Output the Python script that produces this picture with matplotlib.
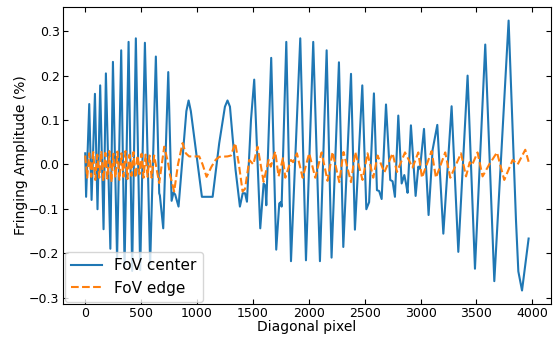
import matplotlib
matplotlib.use("Agg")
import matplotlib.pyplot as plt
import numpy as np

# FoV center: turning points
center_x = [0, 8, 36, 57, 87, 110, 134, 164, 185, 225, 248, 285, 322, 352, 388, 420,
            453, 492, 534, 581, 632, 662, 668, 698, 743, 773, 790, 805, 835, 905, 925,
            945, 1044, 1140, 1199, 1250, 1273, 1295, 1318, 1345, 1384, 1409, 1430, 1447,
            1483, 1512, 1566, 1596, 1612, 1620, 1664, 1709, 1736, 1750, 1757, 1799, 1841,
            1924, 1975, 2040, 2100, 2160, 2204, 2270, 2309, 2378, 2413, 2479, 2515, 2540,
            2583, 2610, 2630, 2652, 2691, 2729, 2750, 2771, 2801, 2831, 2855, 2870, 2884,
            2914, 2956, 2980, 2995, 3031, 3072, 3108, 3150, 3204, 3278, 3338, 3421, 3487,
            3579, 3660, 3788, 3854, 3875, 3908, 3967]
center_y = [0.025, -0.073, 0.136, -0.080, 0.159, -0.101, 0.178, -0.146, 0.205, -0.190,
            0.231, -0.212, 0.257, -0.230, 0.276, -0.240, 0.284, -0.238, 0.274, -0.225,
            0.243, -0.065, -0.070, -0.144, 0.208, -0.082, -0.063, -0.068, -0.095, 0.120,
            0.144, 0.120, -0.073, -0.073, 0.048, 0.130, 0.144, 0.130, 0.063, -0.012,
            -0.095, -0.065, -0.065, -0.084, 0.100, 0.191, -0.144, -0.043, -0.048, -0.092,
            0.240, -0.192, -0.088, -0.085, -0.095, 0.276, -0.218, 0.284, -0.216, 0.276,
            -0.218, 0.257, -0.210, 0.230, -0.186, 0.204, -0.147, 0.178, -0.101, -0.085,
            0.160, -0.058, -0.060, -0.078, 0.135, -0.035, -0.038, -0.073, 0.110, -0.043,
            -0.024, -0.043, -0.064, 0.088, -0.071, -0.005, -0.010, 0.080, -0.114, 0.033,
            0.089, -0.156, 0.131, -0.197, 0.200, -0.235, 0.270, -0.263, 0.324, -0.126,
            -0.241, -0.284, -0.167]

# FoV edge
edge_x = [0, 18, 36, 54, 72, 90, 108, 126, 144, 162, 180, 198, 216, 234, 252, 270, 288,
          306, 324, 342, 360, 378, 396, 414, 432, 450, 468, 486, 504, 522, 540, 558, 576,
          594, 617, 662, 707, 740, 760, 796, 830, 871, 900, 930, 1020, 1050, 1086, 1130,
          1169, 1200, 1273, 1304, 1342, 1375, 1408, 1430, 1468, 1504, 1542, 1596, 1641,
          1660, 1700, 1730, 1769, 1790, 1841, 1860, 1894, 1945, 2004, 2058, 2115, 2168,
          2213, 2273, 2311, 2378, 2416, 2481, 2526, 2577, 2616, 2676, 2750, 2789, 2861,
          2929, 2980, 3013, 3099, 3138, 3221, 3266, 3362, 3407, 3440, 3460, 3510, 3555,
          3615, 3684, 3749, 3824, 3869, 3937, 3967]
edge_y = [0.020, -0.030, 0.025, -0.028, 0.028, -0.035, 0.022, -0.030, 0.030, -0.038,
          0.026, -0.032, 0.030, -0.040, 0.024, -0.030, 0.029, -0.035, 0.025, -0.028,
          0.030, -0.033, 0.022, -0.026, 0.028, -0.030, 0.020, -0.022, 0.024, -0.030,
          0.022, -0.028, 0.020, -0.030, 0.020, -0.042, 0.040, 0.005, -0.025, -0.061,
          0.000, 0.048, 0.025, 0.018, 0.018, 0.000, -0.028, -0.005, 0.011, 0.017,
          0.018, 0.020, 0.048, 0.000, -0.061, -0.055, 0.010, 0.000, 0.040, -0.039,
          0.010, -0.005, 0.029, -0.027, 0.014, -0.030, 0.010, 0.005, 0.025, -0.030,
          0.025, -0.030, 0.027, -0.037, 0.028, -0.040, 0.028, -0.040, 0.028, -0.035,
          0.025, -0.030, 0.020, -0.018, 0.025, -0.017, 0.027, -0.007, 0.027, -0.030,
          0.030, -0.030, 0.027, -0.030, 0.025, -0.027, 0.005, -0.002, 0.027, -0.027,
          0.000, 0.027, -0.035, 0.010, 0.000, 0.033, 0.006]

fig = plt.figure(figsize=(5.53, 3.37), dpi=100)
ax = fig.add_axes([0.114, 0.098, 0.882, 0.881])

ax.plot(center_x, center_y, color="tab:blue", linewidth=1.5, label="FoV center")
ax.plot(edge_x, edge_y, color="tab:orange", linestyle="--", linewidth=1.5, label="FoV edge")

ax.set_xticks(np.arange(0, 4001, 500))
ax.set_yticks(np.arange(-0.3, 0.31, 0.1))
ax.tick_params(direction="in", top=True, right=True, labelsize=9, pad=2.5)
ax.set_xlabel("Diagonal pixel", fontsize=10, labelpad=0)
ax.set_ylabel("Fringing Amplitude (%)", fontsize=10, labelpad=1)
ax.legend(loc="lower left", fontsize=11, borderaxespad=0.15)

fig.savefig("out.png", dpi=100)
